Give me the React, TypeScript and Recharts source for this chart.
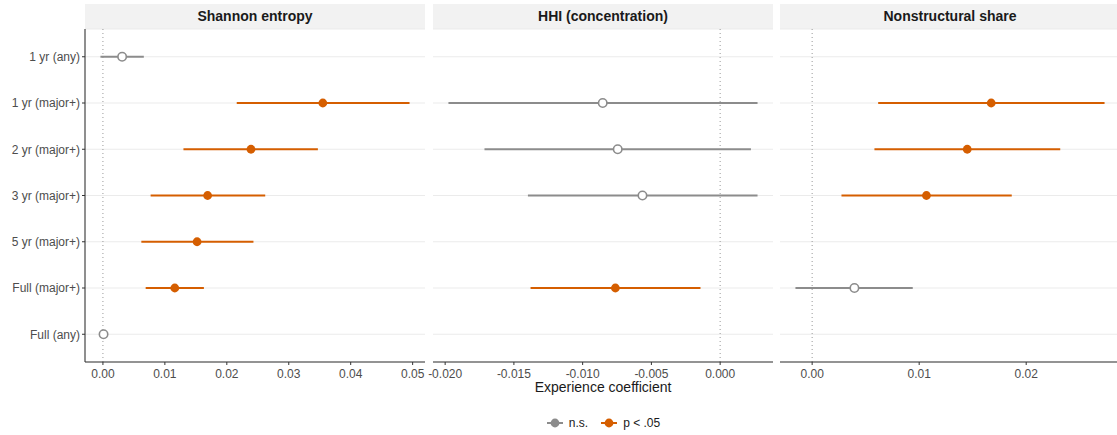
import React from 'react';
import {
  ScatterChart,
  Scatter,
  XAxis,
  YAxis,
  CartesianGrid,
  ErrorBar,
  ReferenceLine,
} from 'recharts';

const specs = [
  '1 yr (any)',
  '1 yr (major+)',
  '2 yr (major+)',
  '3 yr (major+)',
  '5 yr (major+)',
  'Full (major+)',
  'Full (any)',
];

// Shannon entropy
const shannonEst = [0.0031, 0.0355, 0.0239, 0.0169, 0.0152, 0.0116, 0.0001];
const shannonLo = [-0.0004, 0.0216, 0.013, 0.0077, 0.0062, 0.0069, -0.0003];
const shannonHi = [0.0066, 0.0495, 0.0347, 0.0262, 0.0243, 0.0163, 0.0005];
const shannonSig = [false, true, true, true, true, true, false];
const shannonTicks = [0, 0.01, 0.02, 0.03, 0.04, 0.05];

// HHI (concentration)
const hhiEst = [null, -0.00854, -0.00745, -0.00565, null, -0.00762, null];
const hhiLo = [null, -0.01976, -0.01714, -0.01398, null, -0.01379, null];
const hhiHi = [null, 0.00272, 0.00224, 0.00272, null, -0.00143, null];
const hhiSig = [false, false, false, false, false, true, false];
const hhiTicks = [-0.02, -0.015, -0.01, -0.005, 0];

// Nonstructural share
const nonstrEst = [null, 0.01673, 0.01449, 0.01068, null, 0.00395, null];
const nonstrLo = [null, 0.00617, 0.00582, 0.00274, null, -0.00156, null];
const nonstrHi = [null, 0.02732, 0.02318, 0.01865, null, 0.0094, null];
const nonstrSig = [false, true, true, true, false, false, false];
const nonstrTicks = [0, 0.01, 0.02];

const GREY = '#8C8C8C';
const ORANGE = '#D55E00';

type Pt = { x: number; y: number; err: [number, number] };

function buildRows(est: (number | null)[], lo: (number | null)[], hi: (number | null)[], sig: boolean[]) {
  const ns: Pt[] = [];
  const sg: Pt[] = [];
  est.forEach((v, i) => {
    if (v == null) return;
    const p: Pt = { x: v, y: i, err: [v - (lo[i] as number), (hi[i] as number) - v] };
    (sig[i] ? sg : ns).push(p);
  });
  const all = [...lo, ...hi].filter((v) => v != null) as number[];
  const mn = Math.min(...all);
  const mx = Math.max(...all);
  const pad = (mx - mn) * 0.05;
  return { ns, sg, domain: [mn - pad, mx + pad] as [number, number] };
}

const HollowDot = (props: any) => (
  <circle cx={props.cx} cy={props.cy} r={4.2} fill="#fff" stroke={GREY} strokeWidth={1.6} />
);
const FilledDot = (props: any) => <circle cx={props.cx} cy={props.cy} r={4.4} fill={ORANGE} />;

const SpecTick = (props: any) => (
  <text x={props.x} y={props.y} dy="0.355em" textAnchor="end" fontSize={12} fill="#4D4D4D">
    {specs[props.payload.value]}
  </text>
);

const PLOT_TOP = 29;
const PLOT_BOTTOM = 362;
const X_AXIS_H = 30;
const SIDE = 24; // spare room so edge tick labels are not clipped

interface PanelProps {
  title: string;
  est: (number | null)[];
  lo: (number | null)[];
  hi: (number | null)[];
  sig: boolean[];
  ticks: number[];
  digits: number;
  left: number;
  showY?: boolean;
}

const Panel: React.FC<PanelProps> = ({ title, est, lo, hi, sig, ticks, digits, left, showY }) => {
  const { ns, sg, domain } = buildRows(est, lo, hi, sig);
  const yW = showY ? 85 : 0;
  const padL = showY ? 0 : SIDE;
  const w = 340 + yW + padL + SIDE;
  return (
    <>
      <div
        style={{
          position: 'absolute',
          left: left + yW,
          top: 4,
          width: 340,
          height: 25,
          background: '#F2F2F2',
          textAlign: 'center',
          lineHeight: '25px',
          fontWeight: 'bold',
          fontSize: 14,
          color: '#1A1A1A',
        }}
      >
        {title}
      </div>
      <div style={{ position: 'absolute', left: left - padL, top: 0 }}>
        <ScatterChart
          width={w}
          height={435}
          margin={{ top: PLOT_TOP, right: SIDE, left: padL, bottom: 435 - PLOT_BOTTOM - X_AXIS_H }}
        >
          <CartesianGrid vertical={false} stroke="#EBEBEB" strokeWidth={1} />
          <XAxis
            type="number"
            dataKey="x"
            domain={domain}
            allowDataOverflow
            ticks={ticks}
            interval={0}
            tickFormatter={(v: number) => v.toFixed(digits)}
            tick={{ fontSize: 12, fill: '#4D4D4D' }}
            tickSize={3}
            tickMargin={4}
            tickLine={{ stroke: '#333' }}
            axisLine={{ stroke: '#333', strokeWidth: 1.1 }}
            height={X_AXIS_H}
          />
          <YAxis
            type="number"
            dataKey="y"
            domain={[-0.6, 6.6]}
            reversed
            allowDataOverflow
            ticks={specs.map((_, i) => i)}
            interval={0}
            tick={SpecTick}
            tickSize={3}
            tickMargin={2}
            tickLine={{ stroke: '#333' }}
            axisLine={{ stroke: '#333', strokeWidth: 1.1 }}
            width={yW}
            hide={!showY}
          />
          <ReferenceLine x={0} stroke="#999" strokeDasharray="1 3" strokeWidth={1} />
          <Scatter data={ns} shape={HollowDot} isAnimationActive={false}>
            <ErrorBar dataKey="err" direction="x" width={0} stroke={GREY} strokeWidth={2} />
          </Scatter>
          <Scatter data={sg} shape={FilledDot} isAnimationActive={false}>
            <ErrorBar dataKey="err" direction="x" width={0} stroke={ORANGE} strokeWidth={2} />
          </Scatter>
        </ScatterChart>
      </div>
    </>
  );
};

const LegendKey: React.FC<{ color: string }> = ({ color }) => (
  <svg width={18} height={12} style={{ display: 'block' }}>
    <line x1={1} y1={6} x2={17} y2={6} stroke={color} strokeWidth={2} />
    <circle cx={9} cy={6} r={4.4} fill={color} />
  </svg>
);

export default function App() {
  return (
    <div
      style={{
        position: 'relative',
        width: 1117,
        height: 435,
        overflow: 'hidden',
        background: '#fff',
        fontFamily: '"Liberation Sans", Arial, sans-serif',
      }}
    >
      <style>{'body{margin:0}'}</style>
      <Panel title="Shannon entropy" est={shannonEst} lo={shannonLo} hi={shannonHi} sig={shannonSig}
        ticks={shannonTicks} digits={2} left={0} showY />
      <Panel title="HHI (concentration)" est={hhiEst} lo={hhiLo} hi={hhiHi} sig={hhiSig}
        ticks={hhiTicks} digits={3} left={433} />
      <Panel title="Nonstructural share" est={nonstrEst} lo={nonstrLo} hi={nonstrHi} sig={nonstrSig}
        ticks={nonstrTicks} digits={2} left={780} />
      <div
        style={{
          position: 'absolute',
          left: 86,
          width: 1034,
          top: 379,
          textAlign: 'center',
          fontSize: 14,
          color: '#1A1A1A',
          lineHeight: '16px',
        }}
      >
        Experience coefficient
      </div>
      <div
        style={{
          position: 'absolute',
          left: 86,
          width: 1034,
          top: 416,
          display: 'flex',
          justifyContent: 'center',
          alignItems: 'center',
          fontSize: 12,
          color: '#1A1A1A',
          lineHeight: '14px',
        }}
      >
        <LegendKey color={GREY} />
        <span style={{ marginLeft: 5, marginRight: 12 }}>n.s.</span>
        <LegendKey color={ORANGE} />
        <span style={{ marginLeft: 5 }}>p &lt; .05</span>
      </div>
    </div>
  );
}
